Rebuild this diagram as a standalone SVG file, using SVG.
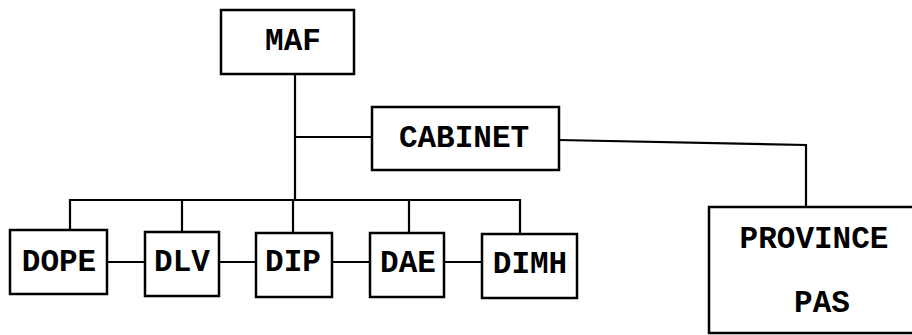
<svg xmlns="http://www.w3.org/2000/svg" width="912" height="335" viewBox="0 0 912 335">
<style>
.n{fill:#fff;stroke:#000;stroke-width:2.5}
text{font-family:"Liberation Mono","Courier New",monospace;font-weight:bold;font-size:31px;fill:#000;text-anchor:middle}
.c{fill:none;stroke:#000;stroke-width:2.2}
</style>
<rect width="912" height="335" fill="#fff"/>
<g id="connectors">
<path class="c" d="M295 74V200"/>
<path class="c" d="M295 137H372"/>
<path class="c" d="M559 140L806 145V207"/>
<path class="c" d="M70 230V200H520V234"/>
<path class="c" d="M182 200V232M293 200V233M409 200V233"/>
<path class="c" d="M107 262H145M219 262H256M332 262H370M444 262H482"/>
</g>
<g id="MAF"><rect class="n" x="221" y="10" width="133" height="64"/><text x="293" y="50">MAF</text></g>
<g id="CABINET"><rect class="n" x="372" y="107" width="187" height="63"/><text x="464" y="147">CABINET</text></g>
<g id="PROVINCE"><rect class="n" x="709" y="207" width="210" height="126"/><text x="814" y="248">PROVINCE</text><text x="822" y="312">PAS</text></g>
<g id="DOPE"><rect class="n" x="10" y="230" width="97" height="64"/><text x="59" y="271">DOPE</text></g>
<g id="DLV"><rect class="n" x="145" y="232" width="74" height="64"/><text x="182" y="271">DLV</text></g>
<g id="DIP"><rect class="n" x="256" y="233" width="76" height="64"/><text x="293" y="271">DIP</text></g>
<g id="DAE"><rect class="n" x="370" y="233" width="74" height="64"/><text x="408" y="272">DAE</text></g>
<g id="DIMH"><rect class="n" x="482" y="234" width="95" height="64"/><text x="530" y="273">DIMH</text></g>
</svg>
